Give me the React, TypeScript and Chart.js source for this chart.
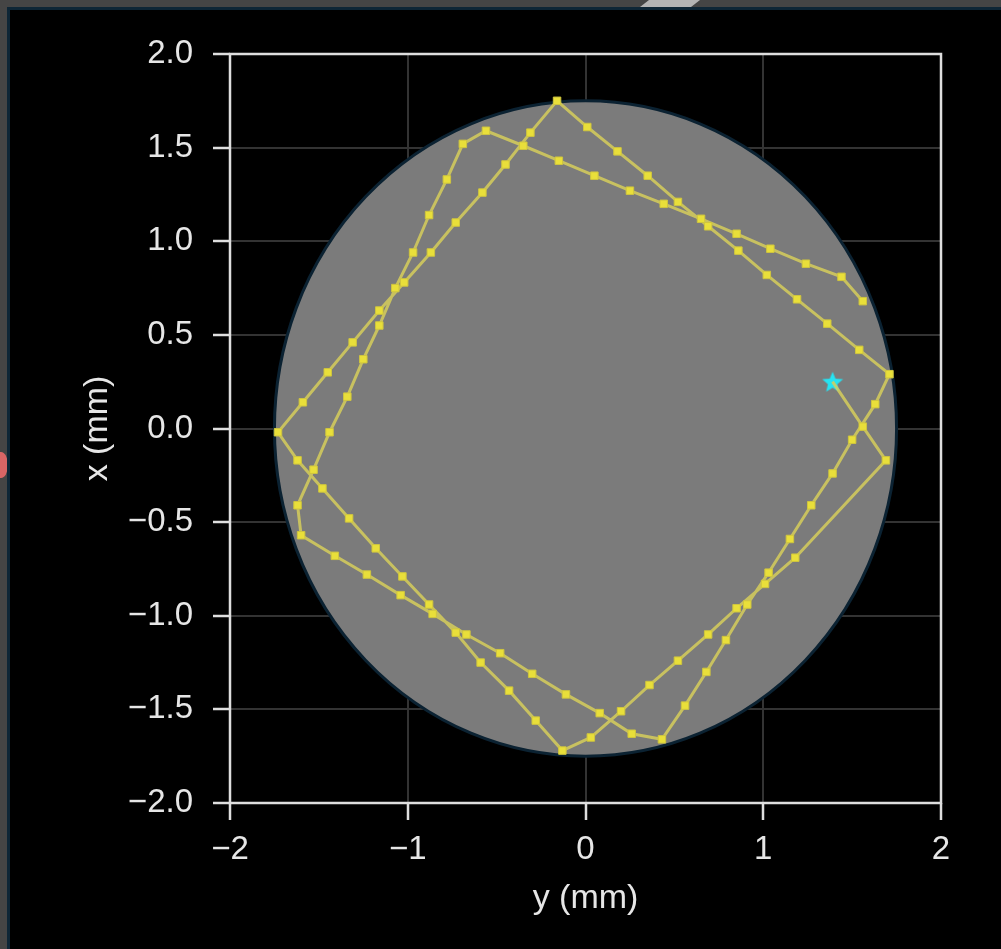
import React, { useEffect, useRef } from "react";
import { Chart, registerables } from "chart.js";

Chart.register(...registerables);

// Beam trajectory, horizontal position (y, mm) of each sample
const yMm = [
  1.39, 1.56, 1.69, 1.18, 1.01, 0.85, 0.69, 0.52, 0.36, 0.2, 0.03, -0.13,
  -0.28, -0.43, -0.59, -0.73, -0.88, -1.03, -1.18, -1.33, -1.48, -1.62, -1.73,
  -1.59, -1.45, -1.31, -1.16, -1.02, -0.87, -0.73, -0.58, -0.45, -0.31, -0.16,
  0.01, 0.18, 0.35, 0.52, 0.69, 0.86, 1.02, 1.19, 1.36, 1.54, 1.71, 1.63, 1.5,
  1.39, 1.27, 1.15, 1.03, 0.91, 0.79, 0.68, 0.56, 0.43, 0.26, 0.08, -0.11, -0.3,
  -0.48, -0.67, -0.86, -1.04, -1.23, -1.41, -1.6, -1.62, -1.53, -1.44, -1.34,
  -1.25, -1.16, -1.07, -0.97, -0.88, -0.78, -0.69, -0.56, -0.35, -0.15, 0.05,
  0.25, 0.44, 0.65, 0.85, 1.04, 1.24, 1.44, 1.56,
];

// Beam trajectory, vertical position (x, mm) of each sample
const xMm = [
  0.25, 0.01, -0.17, -0.69, -0.83, -0.96, -1.1, -1.24, -1.37, -1.51, -1.65,
  -1.72, -1.56, -1.4, -1.25, -1.09, -0.94, -0.79, -0.64, -0.48, -0.32, -0.17,
  -0.02, 0.14, 0.3, 0.46, 0.63, 0.78, 0.94, 1.1, 1.26, 1.41, 1.58, 1.75, 1.61,
  1.48, 1.35, 1.21, 1.08, 0.95, 0.82, 0.69, 0.56, 0.42, 0.29, 0.13, -0.06,
  -0.24, -0.41, -0.59, -0.77, -0.94, -1.13, -1.3, -1.48, -1.66, -1.63, -1.52,
  -1.42, -1.31, -1.2, -1.1, -0.99, -0.89, -0.78, -0.68, -0.57, -0.41, -0.22,
  -0.02, 0.17, 0.37, 0.55, 0.75, 0.94, 1.14, 1.33, 1.52, 1.59, 1.51, 1.43,
  1.35, 1.27, 1.2, 1.12, 1.04, 0.96, 0.88, 0.81, 0.68,
];

// Starting position of the beam, marked with a star
const startY = [1.39];
const startX = [0.25];

// Aperture (gray disc) radius in mm, centred on the origin
const apertureRadius = 1.75;

const xTicks = [-2, -1, 0, 1, 2];
const yTicks = [-2, -1.5, -1, -0.5, 0, 0.5, 1, 1.5, 2];

const TEXT = "#e6e6e6";
const AXIS = "#dedede";
const GRID = "#333333";
const FONT = "'Liberation Sans', Arial, sans-serif";

const minus = (s: string) => s.replace("-", "\u2212");

function makeStar(size: number, color: string) {
  const c = document.createElement("canvas");
  c.width = size;
  c.height = size;
  const g = c.getContext("2d")!;
  const r = size / 2;
  const ir = r * 0.45;
  g.beginPath();
  for (let i = 0; i < 10; i++) {
    const rad = i % 2 === 0 ? r : ir;
    const a = -Math.PI / 2 + (i * Math.PI) / 5;
    g.lineTo(r + rad * Math.cos(a), r + 1 + rad * Math.sin(a));
  }
  g.closePath();
  g.fillStyle = color;
  g.fill();
  return c;
}

const aperturePlugin = {
  id: "aperture",
  beforeDatasetsDraw(chart: any) {
    const { ctx, scales } = chart;
    const sx = scales.x;
    const sy = scales.y;
    const cx = sx.getPixelForValue(0);
    const cy = sy.getPixelForValue(0);
    const rx = Math.abs(sx.getPixelForValue(apertureRadius) - cx);
    const ry = Math.abs(sy.getPixelForValue(apertureRadius) - cy);
    ctx.save();
    ctx.beginPath();
    ctx.ellipse(cx, cy, rx, ry, 0, 0, Math.PI * 2);
    ctx.fillStyle = "#7b7b7b";
    ctx.fill();
    ctx.lineWidth = 3;
    ctx.strokeStyle = "#0b2232";
    ctx.stroke();
    ctx.restore();
  },
};

const framePlugin = {
  id: "frame",
  afterDraw(chart: any) {
    const { ctx, chartArea } = chart;
    const { left, right, top, bottom } = chartArea;
    ctx.save();
    ctx.strokeStyle = AXIS;
    ctx.lineWidth = 2.5;
    ctx.beginPath();
    ctx.moveTo(left, top);
    ctx.lineTo(right, top);
    ctx.lineTo(right, bottom);
    ctx.lineTo(left, bottom);
    ctx.closePath();
    ctx.stroke();
    ctx.restore();
  },
};

export default function App() {
  const ref = useRef<HTMLCanvasElement | null>(null);

  useEffect(() => {
    if (!ref.current) return;
    const path = yMm.map((v, i) => ({ x: v, y: xMm[i] }));
    const start = startY.map((v, i) => ({ x: v, y: startX[i] }));
    const star = makeStar(22, "#26e3f2");

    const chart = new Chart(ref.current, {
      type: "scatter",
      data: {
        datasets: [
          {
            data: path,
            showLine: true,
            borderColor: "rgba(214, 206, 92, 0.85)",
            borderWidth: 3,
            pointStyle: "rect",
            pointRadius: path.map((_, i) => (i === 0 ? 0 : 5.3)),
            pointBackgroundColor: "#e9df3a",
            pointBorderColor: "#cfc53e",
            pointBorderWidth: 1,
          } as any,
          {
            data: start,
            pointStyle: star as any,
            pointRadius: 11,
          } as any,
        ],
      },
      options: {
        animation: false,
        responsive: false,
        maintainAspectRatio: false,
        layout: { padding: { left: 0, top: 44, right: 60, bottom: 26 } },
        plugins: { legend: { display: false }, tooltip: { enabled: false } },
        scales: {
          x: {
            type: "linear",
            min: -2,
            max: 2,
            afterBuildTicks: (s: any) => {
              s.ticks = xTicks.map((v) => ({ value: v }));
            },
            afterFit: (s: any) => {
              s.height = 120;
            },
            ticks: {
              color: TEXT,
              font: { family: FONT, size: 33 },
              padding: 10,
              maxRotation: 0,
              callback: (v: any) => minus(String(v)),
            },
            grid: {
              color: GRID,
              lineWidth: 2,
              tickColor: AXIS,
              tickWidth: 2.5,
              tickLength: 17,
            },
            border: { display: false },
            title: {
              display: true,
              text: "y (mm)",
              color: TEXT,
              font: { family: FONT, size: 34 },
              padding: { top: 0, bottom: 4 },
            },
          },
          y: {
            type: "linear",
            min: -2,
            max: 2,
            afterBuildTicks: (s: any) => {
              s.ticks = yTicks.map((v) => ({ value: v }));
            },
            afterFit: (s: any) => {
              s.width = 220;
            },
            ticks: {
              color: TEXT,
              font: { family: FONT, size: 33 },
              padding: 20,
              callback: (v: any) => minus(Number(v).toFixed(1)),
            },
            grid: {
              color: GRID,
              lineWidth: 2,
              tickColor: AXIS,
              tickWidth: 2.5,
              tickLength: 17,
            },
            border: { display: false },
            title: {
              display: true,
              text: "x (mm)",
              color: TEXT,
              font: { family: FONT, size: 34 },
              padding: { top: 67, bottom: 0 },
            },
          },
        },
      },
      plugins: [aperturePlugin, framePlugin],
    });

    return () => chart.destroy();
  }, []);

  return (
    <div
      style={{
        position: "fixed",
        left: 0,
        top: 0,
        width: 1001,
        height: 949,
        background: "#454545",
        overflow: "hidden",
      }}
    >
      <div
        style={{
          position: "absolute",
          left: 640,
          top: 0,
          width: 60,
          height: 7,
          background: "#b4b4b4",
          clipPath: "polygon(15% 0, 100% 0, 85% 100%, 0 100%)",
        }}
      />
      <div
        style={{
          position: "absolute",
          left: -6,
          top: 452,
          width: 14,
          height: 26,
          borderRadius: "50%",
          background: "#d86565",
        }}
      />
      <div
        style={{
          position: "absolute",
          left: 7,
          top: 7,
          right: 0,
          bottom: 0,
          background: "#000",
          borderLeft: "3px solid #0e2636",
          borderTop: "3px solid #0e2636",
        }}
      >
        <canvas
          ref={ref}
          width={991}
          height={939}
          style={{ display: "block", width: 991, height: 939 }}
        />
      </div>
    </div>
  );
}
